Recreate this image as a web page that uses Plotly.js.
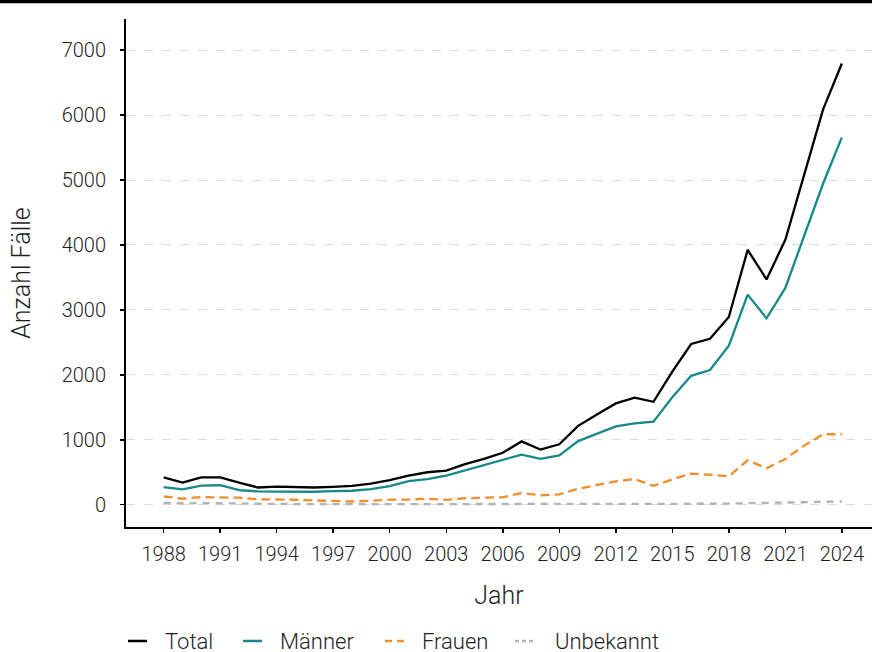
<!DOCTYPE html>
<html>
<head>
<meta charset="utf-8">
<script src="https://cdn.plot.ly/plotly-3.0.1.min.js"></script>
<style>html,body{margin:0;padding:0;background:#fff;}#chart{width:872px;height:652px;}</style>
</head>
<body>
<div id="chart"></div>
<script>
const years = [1988,1989,1990,1991,1992,1993,1994,1995,1996,1997,1998,1999,2000,2001,2002,2003,2004,2005,2006,2007,2008,2009,2010,2011,2012,2013,2014,2015,2016,2017,2018,2019,2020,2021,2022,2023,2024];
const total = [420,340,420,420,340,265,280,270,265,275,290,325,380,450,500,525,625,705,800,975,850,930,1215,1390,1560,1650,1585,2050,2475,2555,2890,3925,3470,4080,5090,6085,6795];
const maenner = [270,236,295,300,226,205,203,200,200,210,215,240,285,365,395,450,530,610,680,772,705,758,980,1090,1206,1253,1280,1655,1985,2075,2450,3236,2870,3338,4136,4943,5658];
const frauen = [130,92,118,115,108,83,83,77,66,62,50,60,78,80,93,75,100,108,115,180,145,160,245,305,360,395,290,390,480,462,437,684,561,705,910,1085,1085];
const unbekannt = [30,20,25,20,15,10,10,10,8,8,5,5,5,5,5,5,5,5,5,5,5,5,5,5,5,5,8,10,12,15,18,22,28,35,32,40,50];
const seriesNames = ["Total","Männer","Frauen","Unbekannt"];
const tickYears = [1988,1991,1994,1997,2000,2003,2006,2009,2012,2015,2018,2021,2024];
const yTicks = [0,1000,2000,3000,4000,5000,6000,7000];

const FONT = "Roboto, 'Noto Sans', sans-serif";
const TXT = "#1e1e1e";
const styles = [
  {color:"#000000", dash:"solid", ldash:"solid"},
  {color:"#17898a", dash:"solid", ldash:"solid"},
  {color:"#f28e2b", dash:"9px,5px", ldash:"7px,5px"},
  {color:"#b3b3b3", dash:"7px,6px", ldash:"4px,3px"}
];
const data = [total, maenner, frauen, unbekannt].map((vals,i)=>({
  type:"scatter", mode:"lines", x:years, y:vals, name:seriesNames[i], showlegend:false,
  line:{color:styles[i].color, dash:styles[i].dash, width:2.3}
}));

// custom legend (pixel positions converted to paper coordinates)
const plotL = 126, plotW = 746, plotB = 527, plotH = 508;
const px = v => (v - plotL) / plotW;
const py = v => (plotB - v) / plotH;
const legSym = [[128,147],[243,262],[385,404],[515,533]];
const legTxt = [163,278,420,553];
const legY = 641;
const shapes = [{type:"line", xref:"paper", yref:"paper", x0:px(0), x1:px(872), y0:py(1.6), y1:py(1.6),
    line:{color:"#000", width:3.3}}];
const annotations = [];
seriesNames.forEach((n,i)=>{
  shapes.push({type:"line", xref:"paper", yref:"paper", x0:px(legSym[i][0]), x1:px(legSym[i][1]),
    y0:py(legY), y1:py(legY), line:{color:styles[i].color, width:2.5, dash:styles[i].ldash}});
  annotations.push({xref:"paper", yref:"paper", x:px(legTxt[i]), y:py(legY), xanchor:"left", yanchor:"middle",
    text:n, showarrow:false, font:{family:FONT, size:22, color:TXT, weight:300}});
});

const layout = {
  width:872, height:652,
  margin:{l:126, r:0, t:19, b:125},
  paper_bgcolor:"#ffffff", plot_bgcolor:"#ffffff",
  font:{family:FONT, size:20, color:TXT, weight:300},
  showlegend:false,
  xaxis:{
    range:[1986, 2025.6], tickmode:"array", tickvals:tickYears, ticktext:tickYears.map(String),
    showgrid:false, zeroline:false, showline:true, linecolor:"#000", linewidth:2,
    ticks:"outside", ticklen:4, tickcolor:"#000", tickwidth:1.5, ticklabelstandoff:4,
    tickfont:{family:FONT, size:20, color:TXT, weight:300},
    title:{text:"Jahr", font:{family:FONT, size:25, color:TXT, weight:300}, standoff:21}
  },
  yaxis:{
    range:[-343, 7480], tickmode:"array", tickvals:yTicks, ticktext:yTicks.map(String),
    showgrid:true, gridcolor:"#dddddd", griddash:"dash", gridwidth:1,
    zeroline:false, showline:true, linecolor:"#000", linewidth:2,
    ticks:"outside", ticklen:4, tickcolor:"#000", tickwidth:1.5, ticklabelstandoff:10,
    tickfont:{family:FONT, size:20, color:TXT, weight:300},
    title:{text:"Anzahl Fälle", font:{family:FONT, size:25, color:TXT, weight:300}, standoff:24}
  },
  shapes:shapes,
  annotations:annotations
};
Plotly.newPlot("chart", data, layout, {displayModeBar:false, staticPlot:true});
</script>
</body>
</html>
